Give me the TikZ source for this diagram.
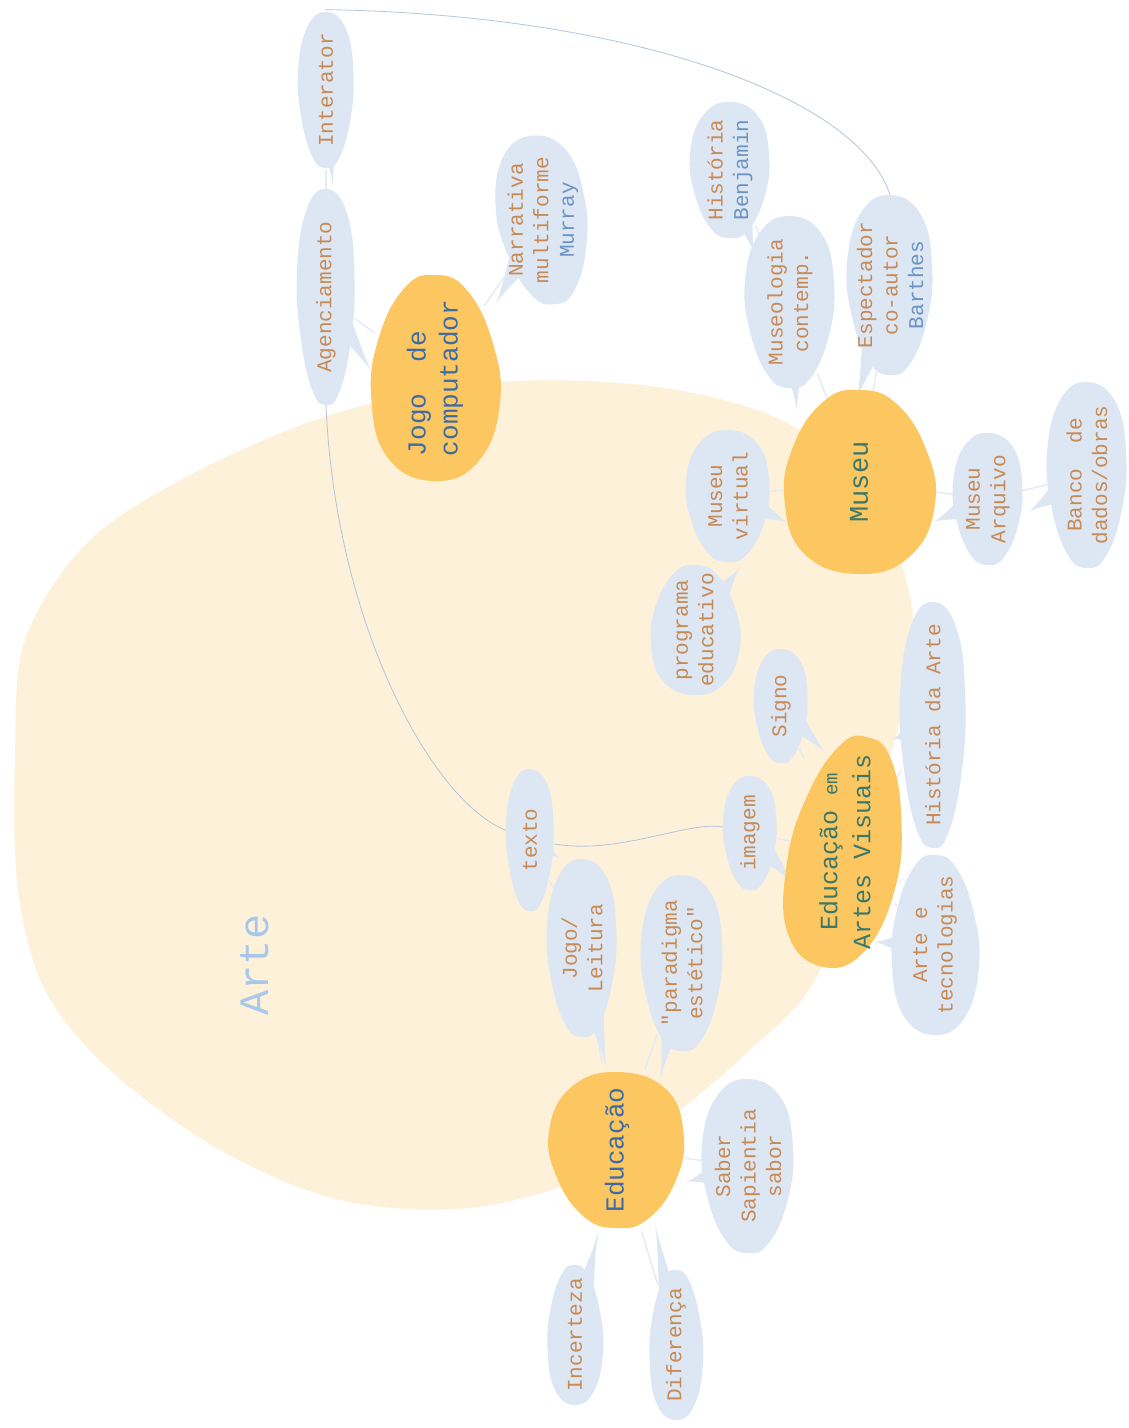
\documentclass[tikz,border=0pt]{standalone}
\usepackage{fontspec}
\setmainfont{Liberation Mono}[Ligatures=TeXOff]
\usetikzlibrary{calc,shapes.geometric}
\pgfdeclarelayer{bg}\pgfdeclarelayer{tails}\pgfdeclarelayer{mid}
\pgfsetlayers{bg,tails,mid,main}
\definecolor{artec}{HTML}{FDF1DA}
\definecolor{orangec}{HTML}{FCC660}
\definecolor{bluec}{HTML}{DDE7F3}
\definecolor{lblc}{HTML}{C88A55}
\definecolor{namec}{HTML}{6B93C3}
\definecolor{mainblue}{HTML}{3D6BA5}
\definecolor{maingreen}{HTML}{3C786A}
\definecolor{artetxt}{HTML}{A8C8EB}
\definecolor{connc}{HTML}{E4EBF4}
\definecolor{curvec}{HTML}{B3C5DA}

\newcommand{\bnode}[9]{%
  \begin{pgfonlayer}{mid}
    \fill[#7, shift={(#2,#3)}, rotate=#6, xscale=#4, yscale=#5]
      plot[smooth cycle, tension=0.75] coordinates {(0,-1) (0.72,-0.78) (0.98,-0.2) (0.86,0.4) (0.46,0.88) (0,1) (-0.48,0.86) (-0.88,0.36) (-1,-0.24) (-0.68,-0.8)};
  \end{pgfonlayer}
  \node[#8, minimum width={2*#5}, minimum height={2*#4}] (#1) at (#2,#3) {#9};}

\newcommand{\tail}[3]{%
  \coordinate (#1-pa) at ($(#1)!#3!90:(#2)$);
  \coordinate (#1-pb) at ($(#1)!#3!-90:(#2)$);
  \fill[bluec] (#1-pa) .. controls ($(#1-pa)!0.5!(#2)$) and ($(#1)!0.85!(#2)$) .. (#2)
     .. controls ($(#1)!0.85!(#2)$) and ($(#1-pb)!0.5!(#2)$) .. (#1-pb) -- cycle;}

\begin{document}
\begin{tikzpicture}[x=1pt,y=-1pt,
  sub/.style={ellipse, inner sep=0pt, rotate=90, align=center, text=lblc, font=\fontsize{21}{25.5}\selectfont},
  mainnode/.style={ellipse, inner sep=0pt, rotate=90, align=center, font=\fontsize{26}{32}\selectfont},
  conn/.style={draw=connc, line width=1.4pt},
  curve/.style={draw=curvec, line width=0.8pt}]
\useasboundingbox (0,0) rectangle (1128,1428);
\begin{pgfonlayer}{bg}
  \fill[white] (0,0) rectangle (1128,1428);
  \fill[artec] plot[smooth cycle, tension=0.55] coordinates {(500,382) (650,386) (770,415) (850,470) (900,560) (915,650) (895,740) (865,840) (815,980) (750,1050) (680,1110) (590,1175) (470,1208) (340,1200) (220,1150) (110,1070) (45,990) (18,890) (15,760) (25,640) (90,540) (200,470) (340,412)};
\end{pgfonlayer}

\node[font=\fontsize{42}{48}\selectfont, text=artetxt, rotate=90] (arte) at (255,965) {Arte};

% sub-topic blobs
\bnode{interator}{326}{90}{28}{78}{0}{bluec}{sub}{Interator}
\bnode{agenc}{326}{297}{29}{108}{0}{bluec}{sub}{Agenciamento}
\bnode{narrativa}{543}{220}{45}{85}{8}{bluec}{sub}{Narrativa\\multiforme\\\textcolor{namec}{Murray}}
\bnode{benjamin}{730}{170}{40}{68}{0}{bluec}{sub}{História\\\textcolor{namec}{Benjamin}}
\bnode{museologia}{790}{302}{45}{86}{0}{bluec}{sub}{Museologia\\contemp.}
\bnode{espectador}{890}{285}{43}{90}{0}{bluec}{sub}{Espectador\\co-autor\\\textcolor{namec}{Barthes}}
\bnode{mvirtual}{728}{496}{42}{66}{0}{bluec}{sub}{Museu\\virtual}
\bnode{arquivo}{988}{499}{35}{66}{0}{bluec}{sub}{Museu\\Arquivo}
\bnode{banco}{1087}{475}{40}{93}{0}{bluec}{sub}{Banco\ \ de\\dados/obras}
\bnode{programa}{695}{630}{45}{65}{180}{bluec}{sub}{programa\\educativo}
\bnode{signo}{781}{706}{27}{57}{0}{bluec}{sub}{Signo}
\bnode{hart}{933}{725}{33}{123}{0}{bluec}{sub}{História da Arte}
\bnode{imagem}{750}{833}{27}{57}{0}{bluec}{sub}{imagem}
\bnode{texto}{530}{840}{24}{71}{0}{bluec}{sub}{texto}
\bnode{jogoleit}{582}{948}{35}{89}{0}{bluec}{sub}{Jogo/\\Leitura}
\bnode{paradigma}{682}{963}{41}{88}{0}{bluec}{sub}{"paradigma\\estético"}
\bnode{artetec}{935}{945}{44}{90}{180}{bluec}{sub}{Arte e\\tecnologias}
\bnode{saber}{748}{1166}{46}{87}{0}{bluec}{sub}{Saber\\Sapientia\\sabor}
\bnode{incerteza}{575}{1335}{28}{70}{180}{bluec}{sub}{Incerteza}
\bnode{diferenca}{676}{1345}{27}{75}{180}{bluec}{sub}{Diferença}

% main topic blobs
\bnode{jogo}{435}{378}{65}{103}{180}{orangec}{mainnode, text=mainblue, align=left}{Jogo\ \ de\\computador}
\bnode{museu}{859}{482}{76}{92}{180}{orangec}{mainnode, text=maingreen, font=\fontsize{27}{32}\selectfont}{Museu}
\bnode{eav}{845}{852}{56}{117}{169}{orangec}{mainnode, text=maingreen, font=\fontsize{25}{33}\selectfont}{Educação {\fontsize{19}{33}\selectfont em}\\Artes Visuais}
\bnode{educacao}{617}{1150}{68}{78}{0}{orangec}{mainnode, text=mainblue}{Educação}

% tail tips
\coordinate (t-interator) at (333,188);
\coordinate (t-agenc) at (372,372);
\coordinate (t-narrativa) at (495,305);
\coordinate (t-benjamin) at (755,255);
\coordinate (t-museologia) at (797,412);
\coordinate (t-espectador) at (856,402);
\coordinate (t-mvirtual) at (787,522);
\coordinate (t-arquivo) at (933,522);
\coordinate (t-banco) at (1028,512);
\coordinate (t-programa) at (740,567);
\coordinate (t-signo) at (825,752);
\coordinate (t-hart) at (891,740);
\coordinate (t-imagem) at (794,884);
\coordinate (t-artetec) at (874,942);
\coordinate (t-texto) at (560,858);
\coordinate (t-jogoleit) at (607,1070);
\coordinate (t-paradigma) at (660,1080);
\coordinate (t-saber) at (686,1182);
\coordinate (t-incerteza) at (598,1233);
\coordinate (t-diferenca) at (655,1223);

\begin{pgfonlayer}{tails}
  \tail{interator}{t-interator}{16pt}
  \tail{agenc}{t-agenc}{16pt}
  \tail{narrativa}{t-narrativa}{24pt}
  \tail{benjamin}{t-benjamin}{22pt}
  \tail{museologia}{t-museologia}{24pt}
  \tail{espectador}{t-espectador}{24pt}
  \tail{mvirtual}{t-mvirtual}{24pt}
  \tail{arquivo}{t-arquivo}{20pt}
  \tail{banco}{t-banco}{22pt}
  \tail{programa}{t-programa}{24pt}
  \tail{signo}{t-signo}{15pt}
  \tail{hart}{t-hart}{18pt}
  \tail{imagem}{t-imagem}{15pt}
  \tail{artetec}{t-artetec}{24pt}
  \tail{texto}{t-texto}{13pt}
  \tail{jogoleit}{t-jogoleit}{20pt}
  \tail{paradigma}{t-paradigma}{22pt}
  \tail{saber}{t-saber}{25pt}
  \tail{incerteza}{t-incerteza}{16pt}
  \tail{diferenca}{t-diferenca}{15pt}
\end{pgfonlayer}

\begin{pgfonlayer}{bg}
  \draw[conn] (interator) -- (agenc);
  \draw[conn] (agenc) -- (jogo);
  \draw[conn] (narrativa) -- (jogo);
  \draw[conn] (benjamin) -- (museologia);
  \draw[conn] (museologia) -- (museu);
  \draw[conn] (espectador) -- (museu);
  \draw[conn] (mvirtual) -- (museu);
  \draw[conn] (arquivo) -- (museu);
  \draw[conn] (banco) -- (arquivo);
  \draw[conn] (programa) -- (mvirtual);
  \draw[conn] (signo) -- (eav);
  \draw[conn] (hart) -- (eav);
  \draw[conn] (imagem) -- (eav);
  \draw[conn] (artetec) -- (eav);
  \draw[conn] (texto) -- (jogoleit);
  \draw[conn] (jogoleit) -- (educacao);
  \draw[conn] (paradigma) -- (educacao);
  \draw[conn] (saber) -- (educacao);
  \draw[conn] (incerteza) -- (educacao);
  \draw[conn] (diferenca) -- (educacao);
  \draw[curve] (interator.east) .. controls (640,15) and (860,100) .. (espectador.east);
  \draw[curve] (agenc.west) .. controls (335,620) and (430,800) .. (texto);
  \draw[curve] (texto) .. controls (620,855) and (690,820) .. (imagem);
\end{pgfonlayer}
\end{tikzpicture}
\end{document}
